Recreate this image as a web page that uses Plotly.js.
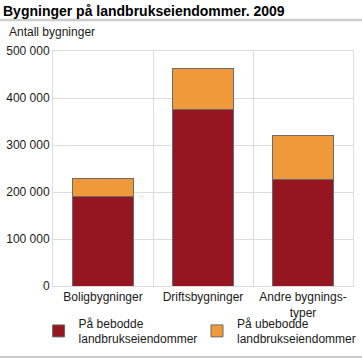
<!DOCTYPE html>
<html><head><meta charset="utf-8">
<script src="https://cdn.plot.ly/plotly-3.0.1.min.js"></script>
<style>html,body{margin:0;padding:0;background:#fff}#c{width:362px;height:362px}</style>
</head><body><div id="c"></div>
<script>
const categories = ["Boligbygninger", "Driftsbygninger", "Andre bygnings-<br>typer"];
const bebodde = [190000, 376000, 227000];
const ubebodde = [39000, 86000, 94000];
const seriesNames = ["På bebodde<br>landbrukseiendommer", "På ubebodde<br>landbrukseiendommer"];
const yTicks = [0, 100000, 200000, 300000, 400000, 500000];

const font = "Liberation Sans, Arial, sans-serif";
const data = [
  {type:'bar', x:categories, y:bebodde, name:seriesNames[0], width:0.61, legend:'legend',
   marker:{color:'#951621', line:{color:'#6b6b6b', width:1}}, hoverinfo:'none'},
  {type:'bar', x:categories, y:ubebodde, name:seriesNames[1], width:0.61, legend:'legend2',
   marker:{color:'#f0993b', line:{color:'#6b6b6b', width:1}}, hoverinfo:'none'}
];
const legBase = {orientation:'v', yanchor:'top', y:-0.097, xanchor:'left', itemwidth:30,
                 font:{size:12}, itemclick:false, bgcolor:'rgba(0,0,0,0)'};
const layout = {
  width:362, height:362, barmode:'stack', separators:', ',
  margin:{l:53, r:9, t:51, b:76, autoexpand:false},
  paper_bgcolor:'#fff', plot_bgcolor:'#fff',
  font:{family:font, size:12, color:'#1a1a1a'},
  title:{text:'<b>Bygninger på landbrukseiendommer. 2009</b>', x:3/362, xanchor:'left', xref:'container',
         y:1-11/362, yanchor:'middle', yref:'container', font:{family:font, size:14, color:'#000'}},
  xaxis:{type:'category', tickson:'boundaries', showgrid:true, gridcolor:'#dcdcdc', gridwidth:1,
         ticks:'', showline:true, linecolor:'#dcdcdc', mirror:true, tickfont:{size:12}, fixedrange:true, automargin:false},
  yaxis:{range:[0,500000], tickvals:yTicks, tickformat:',d', showgrid:true, gridcolor:'#dcdcdc',
         showline:true, linecolor:'#dcdcdc', mirror:true, zeroline:false, ticks:'', ticklen:0,
         tickfont:{size:12}, fixedrange:true, automargin:false},
  showlegend:true,
  legend:Object.assign({}, legBase, {x:-0.048}),
  legend2:Object.assign({}, legBase, {x:0.48}),
  annotations:[{text:'Antall bygninger', xref:'paper', yref:'paper', x:-0.152, y:1.081,
               xanchor:'left', yanchor:'middle', showarrow:false, font:{size:12}}],
  shapes:[
    {type:'line', xref:'paper', yref:'paper', x0:-0.18, x1:1.04, y0:1.132, y1:1.132, line:{color:'#cccccc', width:2.5}},
    {type:'line', xref:'paper', yref:'paper', x0:-0.18, x1:1.04, y0:-0.302, y1:-0.302, line:{color:'#cccccc', width:2}}
  ]
};
Plotly.newPlot('c', data, layout, {displayModeBar:false, staticPlot:true});
</script></body></html>
